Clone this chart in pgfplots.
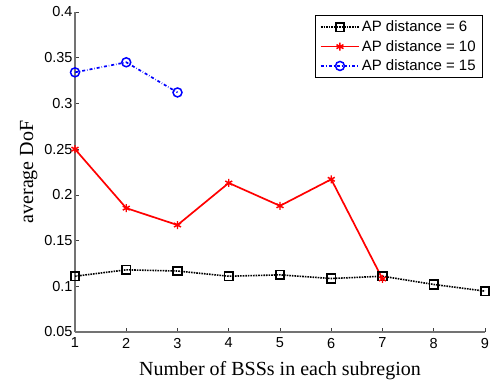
\documentclass[border=0pt]{standalone}
\usepackage{fontspec}
\setmainfont{Liberation Serif}
\newfontfamily\arial{Liberation Sans}
\usepackage{pgfplots}
\pgfplotsset{compat=1.18}
\usetikzlibrary{calc}
\begin{document}
\begin{tikzpicture}
\begin{axis}[
  scale only axis,
  width=410bp, height=320bp,
  xmin=1, xmax=9, ymin=0.05, ymax=0.4,
  axis x line*=bottom, axis y line*=left,
  axis line style={draw=black!55, line width=1.2pt, -},
  xtick={1,...,9},
  ytick={0.05,0.1,0.15,0.2,0.25,0.3,0.35,0.4},
  yticklabels={0.05,0.1,0.15,0.2,0.25,0.3,0.35,0.4},
  tick align=inside,
  major tick length=4bp,
  tick style={black!75, line width=0.6pt},
  ticklabel style={font=\arial\fontsize{14.5bp}{16bp}\selectfont},
  yticklabel style={xshift=1bp},
  xticklabel style={yshift=-2.5bp},
  /pgf/number format/assume math mode=true,
  xlabel={Number of BSSs in each subregion},
  ylabel={average DoF},
  label style={font=\fontsize{20bp}{22bp}\selectfont},
  xlabel style={yshift=-6bp},
  ylabel style={yshift=0bp},
  legend cell align=left,
  legend style={at={(0.994,0.99)}, anchor=north east, draw=black, line width=0.8pt,
    font=\arial\fontsize{15bp}{17bp}\selectfont, inner xsep=4.5bp, inner ysep=3.5bp, row sep=3bp,
    /tikz/every even column/.append style={column sep=2bp}},
  legend image code/.code={\draw[#1] (0bp,0bp) -- (38bp,0bp); \draw[#1,mark repeat=2,mark phase=2] plot coordinates {(0bp,0bp) (19bp,0bp) (38bp,0bp)};},
]
\addplot[black, densely dotted, line width=1.6pt, mark=square, mark size=4.3bp, mark options={solid, line width=1.8pt}]
 coordinates {(1,0.111) (2,0.118) (3,0.1167) (4,0.111) (5,0.1125) (6,0.1085) (7,0.111) (8,0.102) (9,0.0947)};
\addlegendentry{AP distance = 6}
\addplot[red, solid, line width=1.7pt, mark=asterisk, mark size=4bp, mark options={line width=1.5pt}]
 coordinates {(1,0.25) (2,0.1855) (3,0.167) (4,0.213) (5,0.188) (6,0.217) (7,0.108)};
\addlegendentry{AP distance = 10}
\addplot[blue, dash dot, line width=1.7pt, mark=o, mark size=4.5bp, mark options={solid, line width=1.5pt}]
 coordinates {(1,0.334) (2,0.345) (3,0.312)};
\addlegendentry{AP distance = 15}
\end{axis}
\pgfresetboundingbox
\path[use as bounding box] ($(current axis.south west)+(-75bp,-48bp)$) rectangle ($(current axis.north east)+(7bp,12bp)$);
\end{tikzpicture}
\end{document}
